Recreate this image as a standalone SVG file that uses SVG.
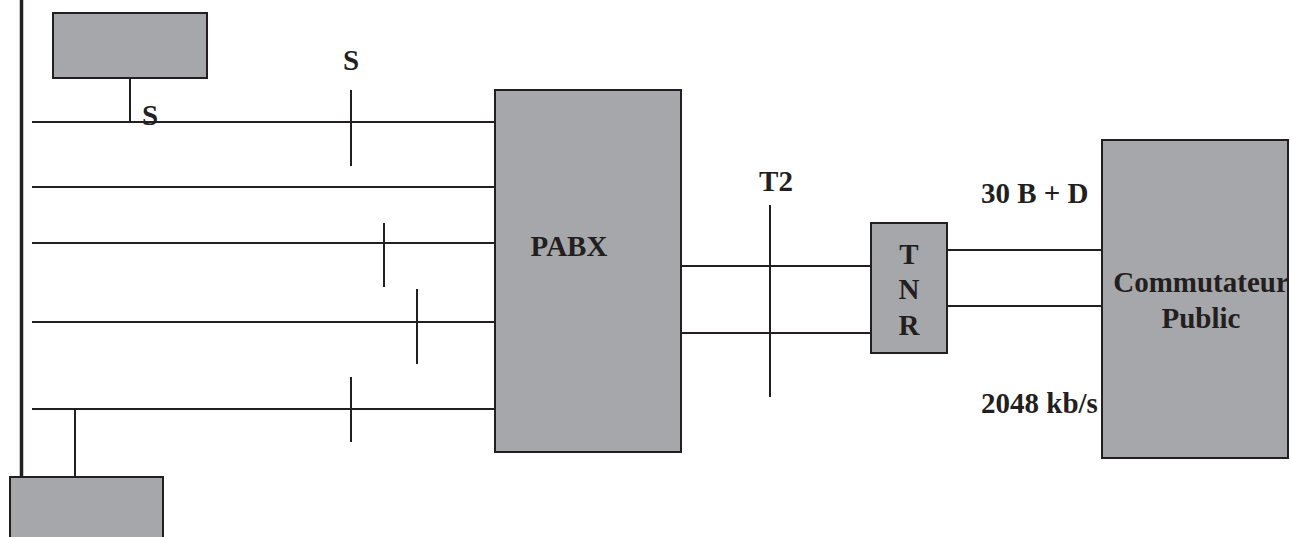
<svg xmlns="http://www.w3.org/2000/svg" width="1290" height="537" viewBox="0 0 1290 537">
<style>
.box{fill:#a6a7aa;stroke:#231f20;stroke-width:2}
.ln{stroke:#231f20;stroke-width:2;fill:none}
.bar{stroke:#231f20;stroke-width:3.5;fill:none}
.t{font-family:"Liberation Serif","Times New Roman",serif;font-weight:bold;font-size:29px;fill:#231f20}
</style>
<rect width="1290" height="537" fill="#ffffff"/>
<g id="connectors">
<line class="bar" x1="21.5" y1="0" x2="21.5" y2="477"/>
<line class="ln" x1="130" y1="78" x2="130" y2="122"/>
<line class="ln" x1="32" y1="122" x2="495" y2="122"/>
<line class="ln" x1="32" y1="187" x2="495" y2="187"/>
<line class="ln" x1="32" y1="243" x2="495" y2="243"/>
<line class="ln" x1="32" y1="322" x2="495" y2="322"/>
<line class="ln" x1="32" y1="409" x2="495" y2="409"/>
<line class="ln" x1="75" y1="409" x2="75" y2="477"/>
<line class="ln" x1="351" y1="90" x2="351" y2="166"/>
<line class="ln" x1="384" y1="223" x2="384" y2="287"/>
<line class="ln" x1="417" y1="289" x2="417" y2="364"/>
<line class="ln" x1="351" y1="377" x2="351" y2="442"/>
<line class="ln" x1="681" y1="266" x2="871" y2="266"/>
<line class="ln" x1="681" y1="333" x2="871" y2="333"/>
<line class="ln" x1="770" y1="205" x2="770" y2="397"/>
<line class="ln" x1="947" y1="250" x2="1102" y2="250"/>
<line class="ln" x1="947" y1="306" x2="1102" y2="306"/>
</g>
<g id="terminal-top"><rect class="box" x="53" y="13" width="154" height="65"/></g>
<g id="terminal-bottom"><rect class="box" x="10" y="477" width="153" height="70"/></g>
<g id="pabx"><rect class="box" x="495" y="90" width="186" height="362"/><text class="t" x="569" y="256" text-anchor="middle">PABX</text></g>
<g id="tnr"><rect class="box" x="871" y="223" width="76" height="130"/>
<text class="t" x="909" y="264" text-anchor="middle">T</text>
<text class="t" x="909" y="299" text-anchor="middle">N</text>
<text class="t" x="909" y="335" text-anchor="middle">R</text></g>
<g id="commutateur"><rect class="box" x="1102" y="140" width="186" height="318"/>
<text class="t" x="1201" y="292" text-anchor="middle">Commutateur</text>
<text class="t" x="1201" y="328" text-anchor="middle">Public</text></g>
<g id="labels">
<text class="t" x="150" y="125" text-anchor="middle">S</text>
<text class="t" x="351" y="70" text-anchor="middle">S</text>
<text class="t" x="776" y="191" text-anchor="middle">T2</text>
<text class="t" x="981" y="203">30 B + D</text>
<text class="t" x="981" y="413">2048 kb/s</text>
</g>
</svg>
